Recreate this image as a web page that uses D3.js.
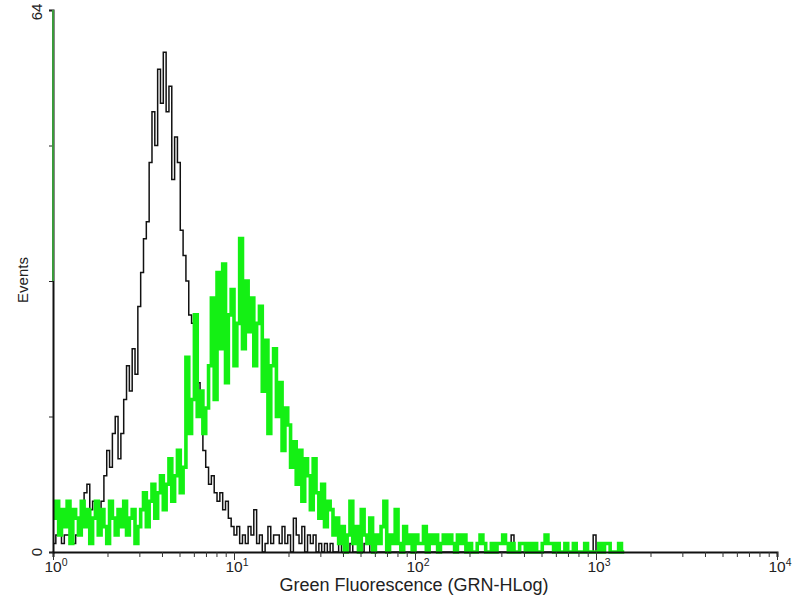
<!DOCTYPE html>
<html>
<head>
<meta charset="utf-8">
<script src="https://cdn.jsdelivr.net/npm/d3@7"></script>
<style>
  html, body { margin: 0; padding: 0; background: #fff; }
  svg { display: block; font-family: "Liberation Sans", Arial, sans-serif; }
</style>
</head>
<body>
<svg id="chart" width="800" height="600"></svg>
<script>
// ---- data (counts per channel, 256 log channels over 4 decades) ----
const channelCount = 256;
const decadeTicks = [1, 10, 100, 1000, 10000];
const decadeExponents = ["0", "1", "2", "3", "4"];
const yTickValues = [0, 16, 32, 48, 64];
const yTickLabels = {0: "0", 64: "64"};
const xTitle = "Green Fluorescence (GRN-HLog)";
const yTitle = "Events";

// control (black) histogram
const controlCounts = [
  1,2,3,1,2,2,3,1,2,3,
  4,7,8,5,6,
  5,3,6,
  9,12,10,14,
  16,11,14,18,
  22,19,24,21,
  29,33,37,
  39,46,52,
  48,57,53,
  59,52,55,
  44,49,46,
  38,35,32,
  28,27,23,
  20,16,12,
  10,8,9,
  7,6,7,5,6,4,
  3,2,3,1,
  2,1,3,2,5,1,2,0,1,3,1,2,2,1,
  3,1,2,0,4,2,1,3,0,2,1,2,0,1,0,1,0,1,
  0,0,1,0,0,0,1,0,0,1,0,1,1,0,0,0,0,
  0,0,0,0,0,0,0,0,0,0,0,0,0,0,0,0,0,0,0,0,0,0,0,0,0,0,0,0,0,0,0,0,0,0,0,0,0,0,0,0,0,0,0,0,0,0,
  2,0,
  0,0,0,0,0,0,0,0,0,0,0,0,0,0,0,0,0,0,0,0,0,0,0,0,0,0,0,
  2,0
];

// stained (green) histogram
const stainedCounts = [
  4,6,2,5,3,6,1,5,4,2,6,3,5,1,4,6,2,5,3,1,6,4,2,5,3,6,2,4,5,1,3,
  5,7,3,6,8,4,7,9,5,8,11,6,9,12,7,
  10,23,14,18,28,16,
  19,14,17,22,
  30,18,33,24,
  34,20,28,
  31,22,27,37,24,
  32,26,30,22,27,
  29,19,25,14,22,
  24,16,20,12,17,
  15,10,13,8,12,6,11,
  9,5,11,7,4,8,3,6,
  5,2,4,1,3,0,2,6,
  1,3,0,5,2,1,4,0,2,1,3,6,0,2,1,5,1,0,3,1,2,0,2,1,1,3,0,2,1,2,0,1,
  2,1,2,1,0,2,1,2,0,1,0,0,1,2,1,0,0,1,0,1,1,2,1,0,1,0,0,1,1,0,1,0,1,0,0,1,2,1,1,0,1,0,0,1,0,0,1,0,0,0,1,0,0,0,0,1,0,1,1,0,0,0,1,0
];

// ---- layout ----
const svg = d3.select("#chart");
const x = d3.scaleLog().domain([1, 10000]).range([53, 777]);
const y = d3.scaleLinear().domain([0, 64]).range([552, 10]);
const channelValue = i => Math.pow(10, 4 * i / channelCount);

const line = d3.line()
  .x(d => x(channelValue(d[0])))
  .y(d => y(d[1]))
  .curve(d3.curveStepAfter);

function pts(arr) {
  const p = arr.map((v, i) => [i, v]);
  p.push([arr.length, 0]);
  return p;
}

// histograms
svg.append("path")
  .attr("d", line(pts(controlCounts)))
  .attr("fill", "none")
  .attr("stroke", "#111")
  .attr("stroke-width", 1.5);

svg.append("path")
  .attr("d", line(pts(stainedCounts)))
  .attr("fill", "none")
  .attr("stroke", "#14f014")
  .attr("stroke-width", 3.6);

// x axis
const xAxis = d3.axisBottom(x)
  .tickValues(x.ticks())
  .tickSize(5)
  .tickFormat("");
const gx = svg.append("g").attr("transform", "translate(0,552)").call(xAxis);
gx.select(".domain").attr("stroke", "#111").attr("stroke-width", 2);
gx.selectAll(".tick line").attr("stroke", "#333")
  .attr("y2", d => decadeTicks.includes(d) ? 8 : 5);

const xl = svg.append("g");
decadeTicks.forEach((v, i) => {
  const t = xl.append("text")
    .attr("x", x(v) + 3)
    .attr("y", 572)
    .attr("text-anchor", "middle")
    .attr("fill", "#222")
    .attr("font-size", 15.5);
  t.append("tspan").text("10");
  t.append("tspan").attr("dy", -6).attr("font-size", 10.5).text(decadeExponents[i]);
});

svg.append("text")
  .attr("x", 414).attr("y", 591)
  .attr("text-anchor", "middle")
  .attr("font-size", 18)
  .attr("fill", "#222")
  .text(xTitle);

// y axis
const yAxis = d3.axisLeft(y).tickValues(yTickValues).tickSize(4).tickFormat("");
const gy = svg.append("g").attr("transform", "translate(53,0)").call(yAxis);
gy.select(".domain").attr("stroke", "#111").attr("stroke-width", 2);
gy.selectAll(".tick line").attr("stroke", "#222");
svg.append("line")
  .attr("x1", 53).attr("x2", 53)
  .attr("y1", y(64)).attr("y2", y(32))
  .attr("stroke", "#3a9a3a").attr("stroke-width", 2);

yTickValues.filter(v => yTickLabels[v] !== undefined).forEach(v => {
  svg.append("text")
    .attr("transform", `translate(36,${v === 64 ? y(v) + 2 : y(v)}) rotate(-90)`)
    .attr("text-anchor", "middle")
    .attr("dominant-baseline", "central")
    .attr("font-size", 15)
    .attr("fill", "#222")
    .text(yTickLabels[v]);
});

svg.append("text")
  .attr("transform", "translate(22,280) rotate(-90)")
  .attr("text-anchor", "middle")
  .attr("dominant-baseline", "central")
  .attr("font-size", 15)
  .attr("fill", "#222")
  .text(yTitle);
</script>
</body>
</html>
